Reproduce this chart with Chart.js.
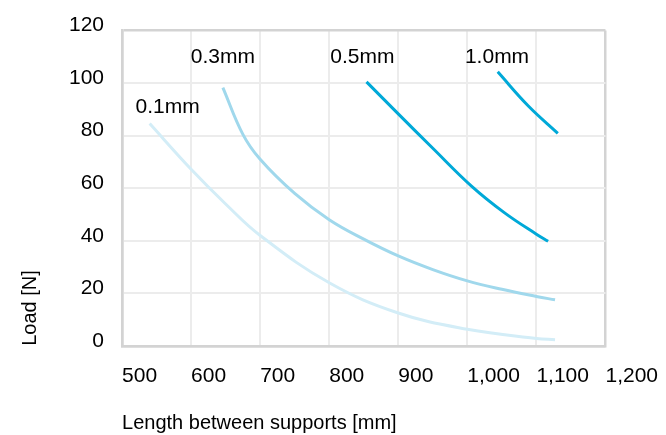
<!DOCTYPE html>
<html>
<head>
<meta charset="utf-8">
<script src="https://cdn.jsdelivr.net/npm/chart.js@4.4.1/dist/chart.umd.min.js"></script>
<style>
  html, body { margin: 0; padding: 0; background: #fff; }
  #wrap { width: 666px; height: 435px; }
</style>
</head>
<body>
<div id="wrap"><canvas id="loadChart"></canvas></div>
<script>
// Load vs. length between supports, one curve per deflection
const curveNames = ['0.1mm', '0.3mm', '0.5mm', '1.0mm'];

const len01 = [540, 600, 650, 700, 800, 900, 1000, 1100, 1127];
const load01 = [84.6, 67.2, 54, 42, 24, 12.5, 6.3, 2.8, 2.3];

const len03 = [646, 675, 700, 750, 800, 850, 900, 950, 1000, 1050, 1100, 1127];
const load03 = [98.3, 80.5, 71, 58, 48, 40.6, 34.2, 29, 24.7, 21.5, 18.8, 17.5];

const len05 = [854, 900, 950, 1006, 1054, 1100, 1117];
const load05 = [100.5, 88.3, 75.2, 60.8, 50.6, 42.5, 39.8];

const len10 = [1044, 1088, 1131];
const load10 = [104.3, 91.4, 80.9];

const lineColors = ['#d3edf7', '#a0d8ec', '#00a9d8', '#00a9d8'];

// where the curve names sit (data units)
const labelLen = [566, 646, 848, 1043];
const labelLoad = [91, 110, 110, 110];

const xTickValues = [500, 600, 700, 800, 900, 1000, 1100, 1200];
const yTickValues = [0, 20, 40, 60, 80, 100, 120];

const toPoints = (xs, ys) => xs.map((v, i) => ({ x: v, y: ys[i] }));
const seriesData = [
    toPoints(len01, load01),
    toPoints(len03, load03),
    toPoints(len05, load05),
    toPoints(len10, load10)
];

const FONT = '"Liberation Sans", Arial, Helvetica, sans-serif';
const gridGray = '#ececec';
const frameGray = '#d3d3d3';

Chart.defaults.font.family = FONT;
Chart.defaults.font.size = 20;
Chart.defaults.color = '#000';

// Names written next to each curve
const curveLabels = {
    id: 'curveLabels',
    afterDatasetsDraw(chart) {
        const { ctx, scales: { x, y } } = chart;
        ctx.save();
        ctx.font = '21px ' + FONT;
        ctx.fillStyle = '#000';
        ctx.textAlign = 'center';
        ctx.textBaseline = 'middle';
        curveNames.forEach((name, i) => {
            ctx.fillText(name, x.getPixelForValue(labelLen[i]), y.getPixelForValue(labelLoad[i]));
        });
        ctx.restore();
    }
};

const isEdge = (ctx, n) => ctx.index === 0 || ctx.index === n - 1;

new Chart(document.getElementById('loadChart'), {
    type: 'line',
    data: {
        datasets: curveNames.map((name, i) => ({
            label: name,
            data: seriesData[i],
            borderColor: lineColors[i],
            borderWidth: 3,
            pointRadius: 0,
            fill: false,
            tension: 0.4
        }))
    },
    options: {
        responsive: true,
        maintainAspectRatio: false,
        animation: false,
        layout: {
            padding: { left: 0, top: 30, right: 0, bottom: 0 }
        },
        plugins: {
            legend: { display: false },
            tooltip: { enabled: false }
        },
        scales: {
            x: {
                type: 'linear',
                min: 500,
                max: 1200,
                afterBuildTicks: axis => { axis.ticks = xTickValues.map(v => ({ value: v })); },
                grid: {
                    color: ctx => isEdge(ctx, xTickValues.length) ? frameGray : gridGray,
                    lineWidth: ctx => isEdge(ctx, xTickValues.length) ? 2.5 : 2,
                    drawTicks: true,
                    tickLength: 10,
                    tickColor: 'rgba(0,0,0,0)'
                },
                border: { display: true, color: frameGray, width: 2.5 },
                ticks: {
                    font: { size: 21 },
                    align: 'start',
                    padding: 8,
                    autoSkip: false,
                    maxRotation: 0
                },
                title: {
                    display: true,
                    text: 'Length between supports [mm]',
                    align: 'start',
                    padding: { top: 14, bottom: 0 }
                }
            },
            y: {
                min: 0,
                max: 120,
                afterBuildTicks: axis => { axis.ticks = yTickValues.map(v => ({ value: v })); },
                grid: {
                    color: ctx => isEdge(ctx, yTickValues.length) ? frameGray : gridGray,
                    lineWidth: ctx => isEdge(ctx, yTickValues.length) ? 2.5 : 2,
                    drawTicks: false
                },
                border: { display: true, color: frameGray, width: 2.5 },
                ticks: {
                    font: { size: 21 },
                    padding: 18,
                    labelOffset: -5
                },
                title: {
                    display: true,
                    text: 'Load [N]',
                    align: 'start',
                    padding: { top: 18, bottom: 9 }
                }
            }
        }
    },
    plugins: [curveLabels]
});
</script>
</body>
</html>
